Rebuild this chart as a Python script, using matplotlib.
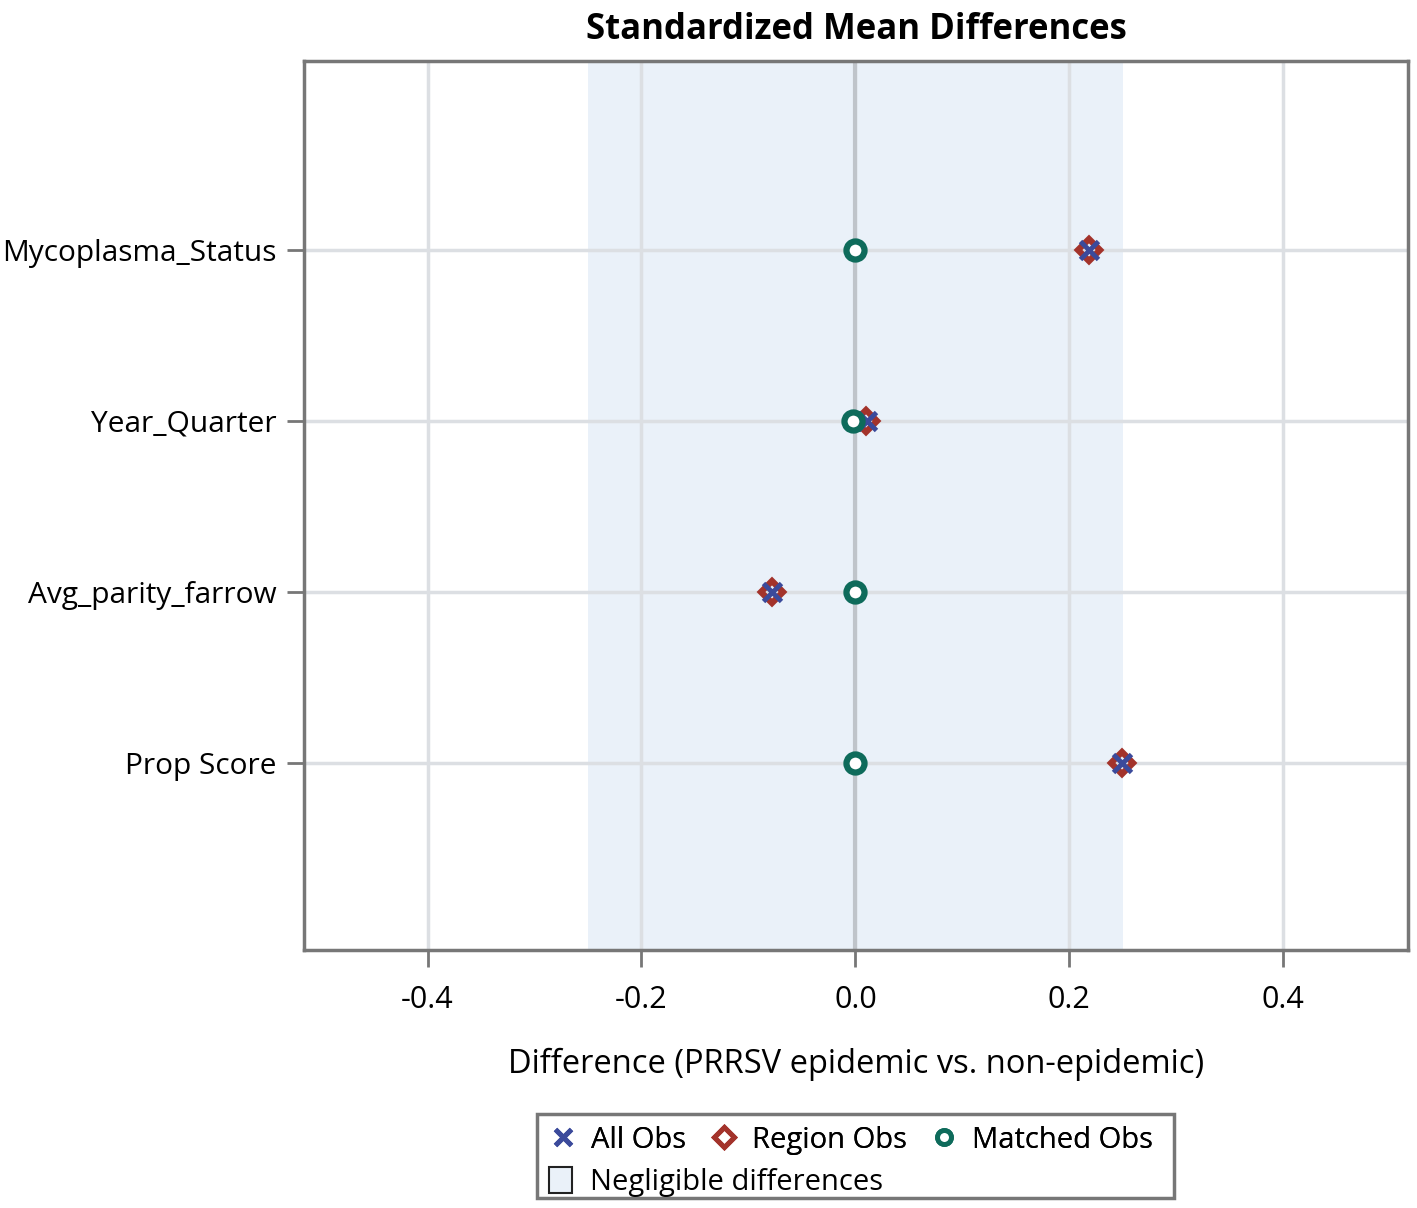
import matplotlib
matplotlib.use("Agg")
import matplotlib.pyplot as plt
from matplotlib.lines import Line2D
from matplotlib.patches import Patch, Rectangle

plt.rcParams['font.family'] = ['Open Sans', 'DejaVu Sans']

variables = ["Mycoplasma_Status", "Year_Quarter", "Avg_parity_farrow", "Prop Score"]
all_obs = [0.218, 0.011, -0.078, 0.249]
region_obs = [0.218, 0.010, -0.078, 0.249]
matched_obs = [0.0, -0.002, 0.0, 0.0]
negligible = (-0.25, 0.25)
xticks = [-0.4, -0.2, 0.0, 0.2, 0.4]

c_all = "#3B4A9B"
c_region = "#A3332B"
c_matched = "#0E6B5B"
grid_c = "#DCDFE3"

fig = plt.figure(figsize=(14.17, 12.08), dpi=100)
ax = fig.add_axes([0.2145, 0.2136, 0.9936 - 0.2145, 0.9495 - 0.2136])

ypos = list(range(len(variables)))
ax.axvspan(negligible[0], negligible[1], color="#EAF1F9", zorder=0, lw=0)
for y in ypos:
    ax.axhline(y, color=grid_c, lw=2.5, zorder=1)
for xt in xticks:
    ax.axvline(xt, color=grid_c, lw=2.5, zorder=1)
ax.axvline(0.0, color="#BFC4CA", lw=3, zorder=1)

ax.plot(region_obs, ypos, ls="none", marker="D", ms=11, mew=4.5, mfc="none", mec=c_region, zorder=3)
ax.plot(all_obs, ypos, ls="none", marker="x", ms=13, mew=3.5, color=c_all, zorder=4)
ax.plot(matched_obs, ypos, ls="none", marker="o", ms=13, mew=4.5, mfc="white", mec=c_matched, zorder=5)

ax.set_xlim(-0.5155, 0.5165)
ax.set_ylim(4.094, -1.105)
ax.set_yticks(ypos)
ax.set_yticklabels(variables, fontsize=21.5)
ax.set_xticks(xticks)
ax.set_xticklabels([f"{v:.1f}" for v in xticks], fontsize=22)
ax.tick_params(axis="both", length=12, width=2, color="#777777")
ax.tick_params(axis="x", pad=13)
ax.tick_params(axis="y", pad=8)
for s in ax.spines.values():
    s.set_color("#777777")
    s.set_linewidth(2.5)
ax.set_xlabel("Difference (PRRSV epidemic vs. non-epidemic)", fontsize=23.5, labelpad=24)
ax.set_title("Standardized Mean Differences", fontsize=25, fontweight="bold", pad=16)

# legend
h1 = [Line2D([], [], ls="none", marker="x", ms=11, mew=3.5, color=c_all),
      Line2D([], [], ls="none", marker="D", ms=10, mew=3.5, mfc="none", mec=c_region),
      Line2D([], [], ls="none", marker="o", ms=10, mew=3.5, mfc="white", mec=c_matched)]
leg1 = fig.legend(h1, ["All Obs", "Region Obs", "Matched Obs"], ncol=3, frameon=False,
                  fontsize=21, loc="upper left", bbox_to_anchor=(537/1417, 1 - 1114/1208),
                  handlelength=1.0, handletextpad=0.45, columnspacing=0.8, borderaxespad=0)
fig.add_artist(leg1)
h2 = [Patch(facecolor="#EAF1F9", edgecolor="#222222", lw=1.5)]
leg2 = fig.legend(h2, ["Negligible differences"], frameon=False, fontsize=21,
                  loc="upper left", bbox_to_anchor=(537/1417, 1 - 1155/1208),
                  handlelength=0.8, handleheight=1.0, handletextpad=0.6, borderaxespad=0)
fig.add_artist(Rectangle((537/1417, 1 - 1198/1208), (1174-537)/1417, (1198-1114)/1208,
                         transform=fig.transFigure, fill=False, edgecolor="#777777", lw=2.5))

fig.savefig("out.png", dpi=100)
